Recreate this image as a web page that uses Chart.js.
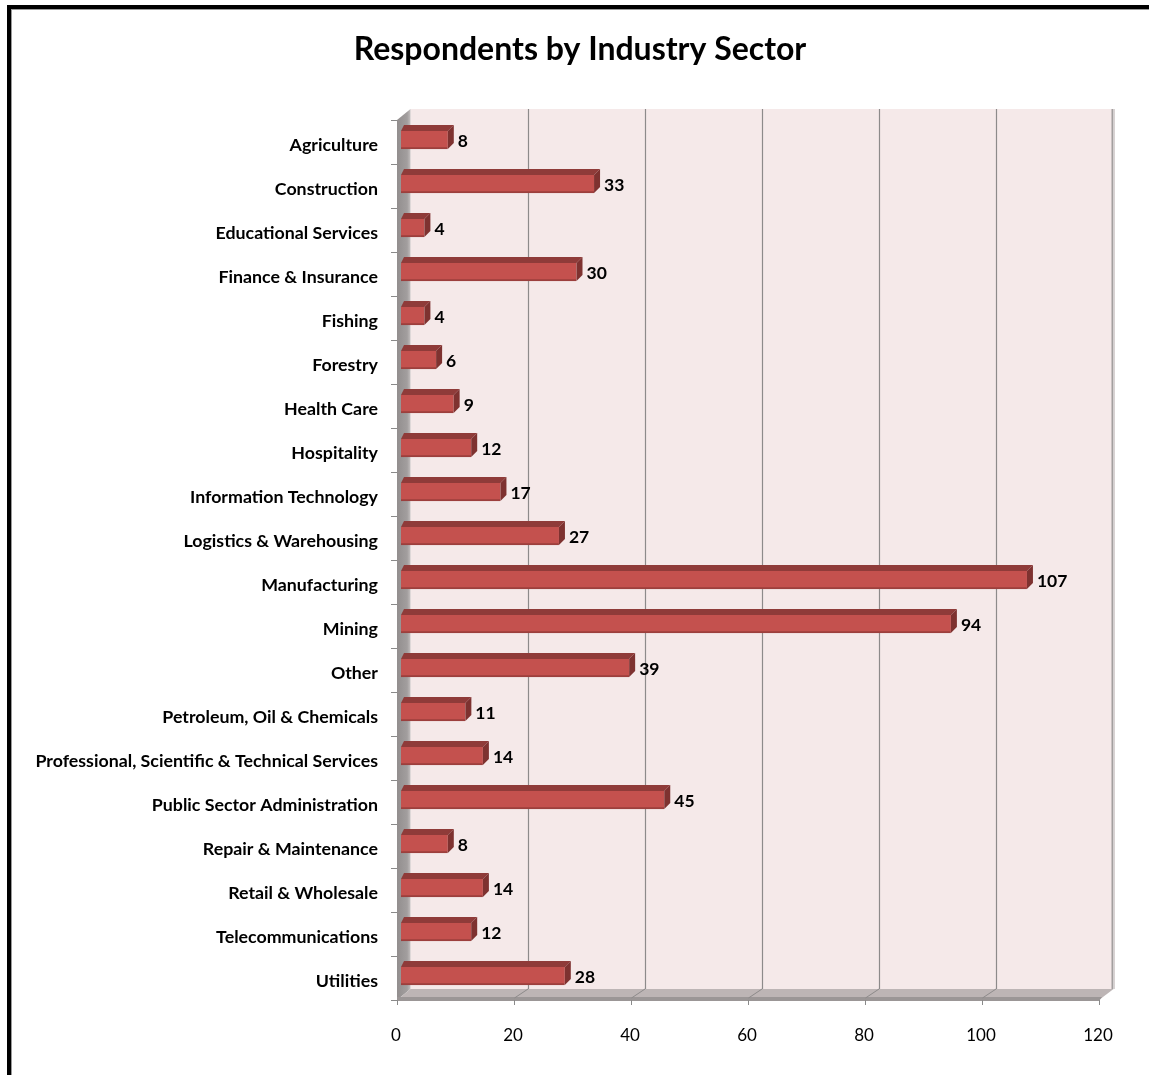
<!DOCTYPE html>
<html>
<head>
<meta charset="utf-8">
<script src="https://cdn.jsdelivr.net/npm/chart.js@4"></script>
<style>
  html, body { margin: 0; padding: 0; background: #fff; }
  #wrap { width: 1149px; height: 1075px; }
</style>
</head>
<body>
<div id="wrap"><canvas id="chart" width="1149" height="1075"></canvas></div>
<script>
// Respondents per industry sector
const sectors = [
  'Agriculture', 'Construction', 'Educational Services', 'Finance & Insurance',
  'Fishing', 'Forestry', 'Health Care', 'Hospitality', 'Information Technology',
  'Logistics & Warehousing', 'Manufacturing', 'Mining', 'Other',
  'Petroleum, Oil & Chemicals', 'Professional, Scientific & Technical Services',
  'Public Sector Administration', 'Repair & Maintenance', 'Retail & Wholesale',
  'Telecommunications', 'Utilities'
];
const respondents = [8, 33, 4, 30, 4, 6, 9, 12, 17, 27, 107, 94, 39, 11, 14, 45, 8, 14, 12, 28];
const axisTicks = [0, 20, 40, 60, 80, 100, 120];
const chartTitle = 'Respondents by Industry Sector';

const FONT = 'Lato, "Noto Sans", sans-serif';

// oblique 3-D offsets relative to the plane the bar faces sit in
const FRONT = { dx: -4, dy: 2 };
const BACK = { dx: 9.5, dy: -9 };
const BAR_DEPTH = { dx: 6, dy: -6 };

const framePlugin = {
  id: 'frame',
  beforeDraw(chart) {
    const ctx = chart.ctx;
    ctx.save();
    ctx.fillStyle = '#fff';
    ctx.fillRect(0, 0, chart.width, chart.height);
    // heavy outer frame (top and left edges)
    ctx.fillStyle = '#000';
    ctx.fillRect(7, 5, chart.width, 4);
    ctx.fillRect(7, 5, 4, chart.height);
    ctx.fillStyle = '#9a9a9a';
    ctx.fillRect(11, 9, chart.width, 1);
    ctx.fillRect(11, 9, 1, chart.height);
    // title
    ctx.fillStyle = '#000';
    ctx.font = 'bold 32px ' + FONT;
    ctx.textAlign = 'center';
    ctx.textBaseline = 'middle';
    ctx.fillText(chartTitle, 580, 50);
    ctx.restore();
  }
};

const wallsPlugin = {
  id: 'walls',
  beforeDatasetsDraw(chart) {
    const ctx = chart.ctx;
    const xs = chart.scales.x;
    const ca = chart.chartArea;
    const x0 = xs.getPixelForValue(axisTicks[0]);
    const xMax = xs.getPixelForValue(axisTicks[axisTicks.length - 1]);
    const top = ca.top, bottom = ca.bottom;
    ctx.save();

    // back wall
    ctx.fillStyle = '#F5E9E9';
    ctx.fillRect(x0 + BACK.dx, top + BACK.dy, xMax - x0, bottom - top);

    // gridlines on the back wall
    ctx.strokeStyle = '#8d8a8a';
    ctx.lineWidth = 1.2;
    axisTicks.slice(1, -1).forEach(v => {
      const px = Math.round(xs.getPixelForValue(v) + BACK.dx) + 0.5;
      ctx.beginPath();
      ctx.moveTo(px, top + BACK.dy);
      ctx.lineTo(px, bottom + BACK.dy);
      ctx.stroke();
    });
    // right edge of the back wall
    const rx = xMax + BACK.dx;
    ctx.fillStyle = '#a39f9f';
    ctx.fillRect(rx - 1, top + BACK.dy, 2, bottom - top);
    ctx.fillStyle = '#d8d2d2';
    ctx.fillRect(rx + 1, top + BACK.dy, 1.5, bottom - top);

    // left side wall
    const lf = x0 + FRONT.dx, lb = x0 + BACK.dx;
    const g = ctx.createLinearGradient(lf, 0, lb, 0);
    g.addColorStop(0, '#928e8e');
    g.addColorStop(0.75, '#a29e9e');
    g.addColorStop(1, '#c2bdbd');
    ctx.fillStyle = g;
    ctx.beginPath();
    ctx.moveTo(lf, top + FRONT.dy);
    ctx.lineTo(lb, top + BACK.dy);
    ctx.lineTo(lb, bottom + BACK.dy);
    ctx.lineTo(lf, bottom + FRONT.dy);
    ctx.closePath();
    ctx.fill();

    // floor
    const fb = bottom + BACK.dy, ff = bottom + FRONT.dy;
    ctx.fillStyle = '#bdb5b5';
    ctx.beginPath();
    ctx.moveTo(lf, ff);
    ctx.lineTo(lb, fb);
    ctx.lineTo(xMax + BACK.dx + 1, fb);
    ctx.lineTo(xMax + FRONT.dx, ff);
    ctx.closePath();
    ctx.fill();
    // front edge of the floor slab
    ctx.fillStyle = '#9b9696';
    ctx.beginPath();
    ctx.moveTo(lf, ff - 3);
    ctx.lineTo(xMax + FRONT.dx + 3, ff - 3);
    ctx.lineTo(xMax + FRONT.dx, ff + 1);
    ctx.lineTo(lf, ff + 1);
    ctx.closePath();
    ctx.fill();

    // gridlines running across the floor
    ctx.strokeStyle = '#8d8a8a';
    ctx.lineWidth = 1;
    axisTicks.slice(1, -1).forEach(v => {
      const px = xs.getPixelForValue(v);
      ctx.beginPath();
      ctx.moveTo(px + BACK.dx + 0.5, fb);
      ctx.lineTo(px + FRONT.dx + 0.5, ff - 2);
      ctx.stroke();
    });

    // tick marks along the front of the value axis
    ctx.strokeStyle = '#8a8a8a';
    axisTicks.forEach(v => {
      const px = Math.round(xs.getPixelForValue(v) + FRONT.dx) + 0.5;
      ctx.beginPath();
      ctx.moveTo(px, ff);
      ctx.lineTo(px, ff + 5);
      ctx.stroke();
    });

    // tick marks at the category boundaries on the side wall
    const n = sectors.length;
    for (let i = 0; i <= n; i++) {
      const y = Math.round(top + (bottom - top) * i / n + FRONT.dy) + 0.5;
      ctx.beginPath();
      ctx.moveTo(lf - 6, y);
      ctx.lineTo(lf, y);
      ctx.stroke();
    }
    ctx.restore();
  }
};

const barDepthPlugin = {
  id: 'barDepth',
  afterDatasetsDraw(chart) {
    const ctx = chart.ctx;
    const meta = chart.getDatasetMeta(0);
    ctx.save();
    meta.data.forEach((bar, i) => {
      const p = bar.getProps(['x', 'y', 'base', 'height'], true);
      const t = p.y - p.height / 2, b = p.y + p.height / 2;
      const xs = p.base, xe = p.x;
      const { dx, dy } = BAR_DEPTH;
      // top face
      ctx.fillStyle = '#8f3b39';
      ctx.beginPath();
      ctx.moveTo(xs, t);
      ctx.lineTo(xs + dx * 0.5, t + dy);
      ctx.lineTo(xe + dx, t + dy);
      ctx.lineTo(xe, t);
      ctx.closePath();
      ctx.fill();
      // side face
      ctx.fillStyle = '#7e3230';
      ctx.beginPath();
      ctx.moveTo(xe, t);
      ctx.lineTo(xe + dx, t + dy);
      ctx.lineTo(xe + dx, b + dy);
      ctx.lineTo(xe, b);
      ctx.closePath();
      ctx.fill();
      // value label
      ctx.fillStyle = '#000';
      ctx.font = 'bold 17.5px ' + FONT;
      ctx.textAlign = 'left';
      ctx.textBaseline = 'middle';
      ctx.fillText(String(respondents[i]), xe + 10, p.y + 1);
    });
    ctx.restore();
  }
};

new Chart(document.getElementById('chart'), {
  type: 'bar',
  data: {
    labels: sectors,
    datasets: [{
      data: respondents,
      backgroundColor: '#C4514E',
      borderColor: '#9c3f3d',
      borderWidth: { top: 0, right: 0, bottom: 2, left: 0 },
      borderSkipped: false,
      barThickness: 18
    }]
  },
  plugins: [framePlugin, wallsPlugin, barDepthPlugin],
  options: {
    indexAxis: 'y',
    responsive: false,
    animation: false,
    devicePixelRatio: 1,
    layout: { padding: { top: 118, right: 46, bottom: 0, left: 0 } },
    plugins: {
      legend: { display: false },
      title: { display: false },
      tooltip: { enabled: false }
    },
    scales: {
      x: {
        type: 'linear',
        min: axisTicks[0],
        max: axisTicks[axisTicks.length - 1],
        afterBuildTicks(scale) { scale.ticks = axisTicks.map(v => ({ value: v })); },
        afterFit(scale) { scale.height = 77; },
        grid: { display: false, drawTicks: false },
        border: { display: false },
        ticks: {
          font: { family: FONT, size: 17 },
          color: '#000',
          padding: 27,
          labelOffset: -5,
          maxRotation: 0
        }
      },
      y: {
        afterFit(scale) { scale.width = 401; },
        grid: { display: false, drawTicks: false },
        border: { display: false },
        ticks: {
          autoSkip: false,
          font: { family: FONT, size: 17.8, weight: 'bold' },
          color: '#000',
          padding: 23,
          labelOffset: 5
        }
      }
    }
  }
});
</script>
</body>
</html>
